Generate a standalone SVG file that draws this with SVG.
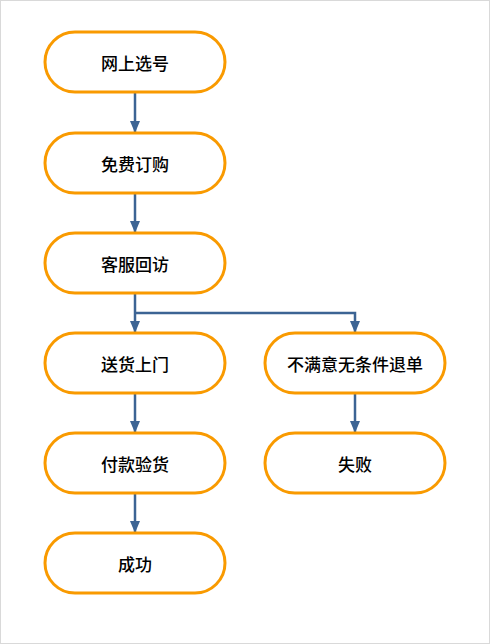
<svg xmlns="http://www.w3.org/2000/svg" width="490" height="644" viewBox="0 0 490 644">
<defs>
<marker id="ah" markerWidth="12" markerHeight="10" refX="11" refY="5" orient="auto" markerUnits="userSpaceOnUse">
<path d="M0,0 L12,5 L0,10 Z" fill="#3C6494"/>
</marker>
<style>
.n{fill:#fff;stroke:#F99A00;stroke-width:3}
.t{font-family:"Noto Sans CJK SC","Liberation Sans",sans-serif;font-size:17px;font-weight:500;fill:#000;text-anchor:middle;dominant-baseline:central}
.c{fill:none;stroke:#3C6494;stroke-width:2.5;marker-end:url(#ah)}
</style>
</defs>
<rect x="0.5" y="0.5" width="489" height="643" fill="#fff" stroke="#D9D9D9"/>
<g id="connectors">
<path class="c" d="M135,92 V132"/>
<path class="c" d="M135,193 V232"/>
<path class="c" d="M135,293 V332"/>
<path class="c" d="M135,313 H355 V332"/>
<path class="c" d="M135,393 V432"/>
<path class="c" d="M135,493 V532"/>
<path class="c" d="M355,393 V432"/>
</g>
<g id="n1"><rect class="n" x="45" y="32" width="180" height="60" rx="30"/><text class="t" x="135" y="62">网上选号</text></g>
<g id="n2"><rect class="n" x="45" y="133" width="180" height="60" rx="30"/><text class="t" x="135" y="163">免费订购</text></g>
<g id="n3"><rect class="n" x="45" y="233" width="180" height="60" rx="30"/><text class="t" x="135" y="263">客服回访</text></g>
<g id="n4"><rect class="n" x="45" y="333" width="180" height="60" rx="30"/><text class="t" x="135" y="363">送货上门</text></g>
<g id="n5"><rect class="n" x="45" y="433" width="180" height="60" rx="30"/><text class="t" x="135" y="463">付款验货</text></g>
<g id="n6"><rect class="n" x="45" y="533" width="180" height="60" rx="30"/><text class="t" x="135" y="563">成功</text></g>
<g id="n7"><rect class="n" x="265" y="333" width="180" height="60" rx="30"/><text class="t" x="355" y="363">不满意无条件退单</text></g>
<g id="n8"><rect class="n" x="265" y="433" width="180" height="60" rx="30"/><text class="t" x="355" y="463">失败</text></g>
</svg>
